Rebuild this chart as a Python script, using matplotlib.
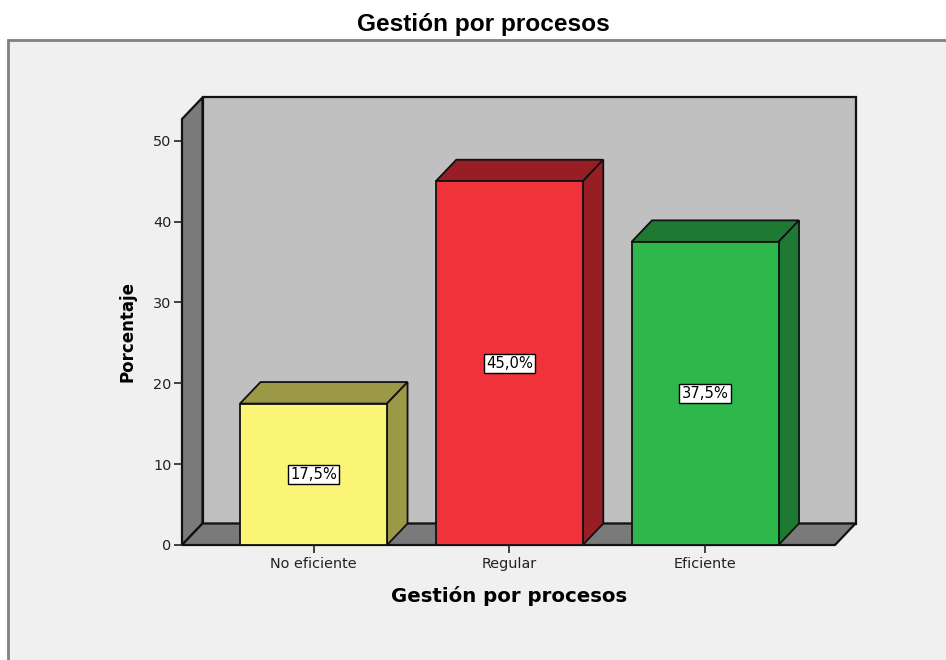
import matplotlib
matplotlib.use("Agg")
import matplotlib.pyplot as plt
from matplotlib.patches import Rectangle, Polygon

# Data
categories = ["No eficiente", "Regular", "Eficiente"]
percentages = [17.5, 45.0, 37.5]
y_ticks = [0, 10, 20, 30, 40, 50]

front_colors = ["#FAF577", "#F0323A", "#2EB84B"]
shade_colors = ["#9C9946", "#961E24", "#1E7A32"]

W, H, DPI = 946, 660, 100
fig = plt.figure(figsize=(W / DPI, H / DPI), dpi=DPI)
fig.patch.set_facecolor("white")

# Panel frame behind the chart
fig.patches.append(Rectangle((8 / W, -0.1), 1.2, (H - 40) / H + 0.1,
                             transform=fig.transFigure, facecolor="#F0F0F0",
                             edgecolor="#808080", linewidth=2, zorder=-10))

# Front plane of the 3D box
left, right, bottom, top = 182, 835, 545, 119
ax = fig.add_axes([left / W, (H - bottom) / H, (right - left) / W, (bottom - top) / H])
ax.set_zorder(5)
ax.set_facecolor("none")
for s in ax.spines.values():
    s.set_visible(False)

xmin, xmax = -0.672, 2.664
ymin, ymax = 0.0, 52.7
ax.set_xlim(xmin, xmax)
ax.set_ylim(ymin, ymax)

# Depth of the 3D projection, in pixels -> data units
depth_px_x, depth_px_y = 20.5, 21.5
dx = depth_px_x * (xmax - xmin) / (right - left)
dy = depth_px_y * (ymax - ymin) / (bottom - top)

wall_kw = dict(edgecolor="#111111", linewidth=1.6, clip_on=False, joinstyle="miter")
edge_kw = dict(edgecolor="#111111", linewidth=1.3, clip_on=False, joinstyle="miter")

# Back wall
ax.add_patch(Polygon([(xmin + dx, dy), (xmax + dx, dy), (xmax + dx, ymax + dy),
                      (xmin + dx, ymax + dy)], facecolor="#C0C0C0", zorder=1, **wall_kw))
# Left wall
ax.add_patch(Polygon([(xmin, 0), (xmin + dx, dy), (xmin + dx, ymax + dy), (xmin, ymax)],
                     facecolor="#7A7A7A", zorder=1, **wall_kw))
# Floor
ax.add_patch(Polygon([(xmin, 0), (xmax, 0), (xmax + dx, dy), (xmin + dx, dy)],
                     facecolor="#7A7A7A", zorder=1, **wall_kw))

# Bars
xpos = list(range(len(categories)))
bw = 0.751
ax.bar(xpos, percentages, width=bw, color=front_colors, edgecolor="#111111",
       linewidth=1.3, zorder=3)
for x, v, sc in zip(xpos, percentages, shade_colors):
    x0, x1 = x - bw / 2, x + bw / 2
    ax.add_patch(Polygon([(x0, v), (x1, v), (x1 + dx, v + dy), (x0 + dx, v + dy)],
                         facecolor=sc, zorder=2, **edge_kw))
    ax.add_patch(Polygon([(x1, 0), (x1 + dx, dy), (x1 + dx, v + dy), (x1, v)],
                         facecolor=sc, zorder=2, **edge_kw))
    ax.text(x, v / 2, f"{v:.1f}%".replace(".", ","), ha="center", va="center",
            fontsize=10.6, family="DejaVu Sans", zorder=5,
            bbox=dict(boxstyle="square,pad=0.14", facecolor="white",
                      edgecolor="black", linewidth=1))

# Axes ticks
ax.set_yticks(y_ticks)
ax.set_yticklabels([str(t) for t in y_ticks])
ax.set_xticks(xpos)
ax.set_xticklabels(categories)
ax.tick_params(axis="both", direction="out", length=6, width=1.2, color="#222222",
               labelsize=10.4, labelcolor="#222222")
ax.tick_params(axis="y", pad=1.5)
ax.tick_params(axis="x", pad=2.5)

# Titles
fig.text(483 / W, 1 - 31.5 / H, "Gestión por procesos", ha="center", va="baseline",
         fontsize=17.6, fontweight="bold", family="Liberation Sans")
fig.text(509 / W, 1 - 602 / H, "Gestión por procesos", ha="center", va="baseline",
         fontsize=14.2, fontweight="bold", family="DejaVu Sans")
fig.text(127 / W, 1 - 332 / H, "Porcentaje", ha="center", va="center", rotation=90,
         fontsize=12, fontweight="bold", family="DejaVu Sans")

fig.savefig("out.png", dpi=DPI)
